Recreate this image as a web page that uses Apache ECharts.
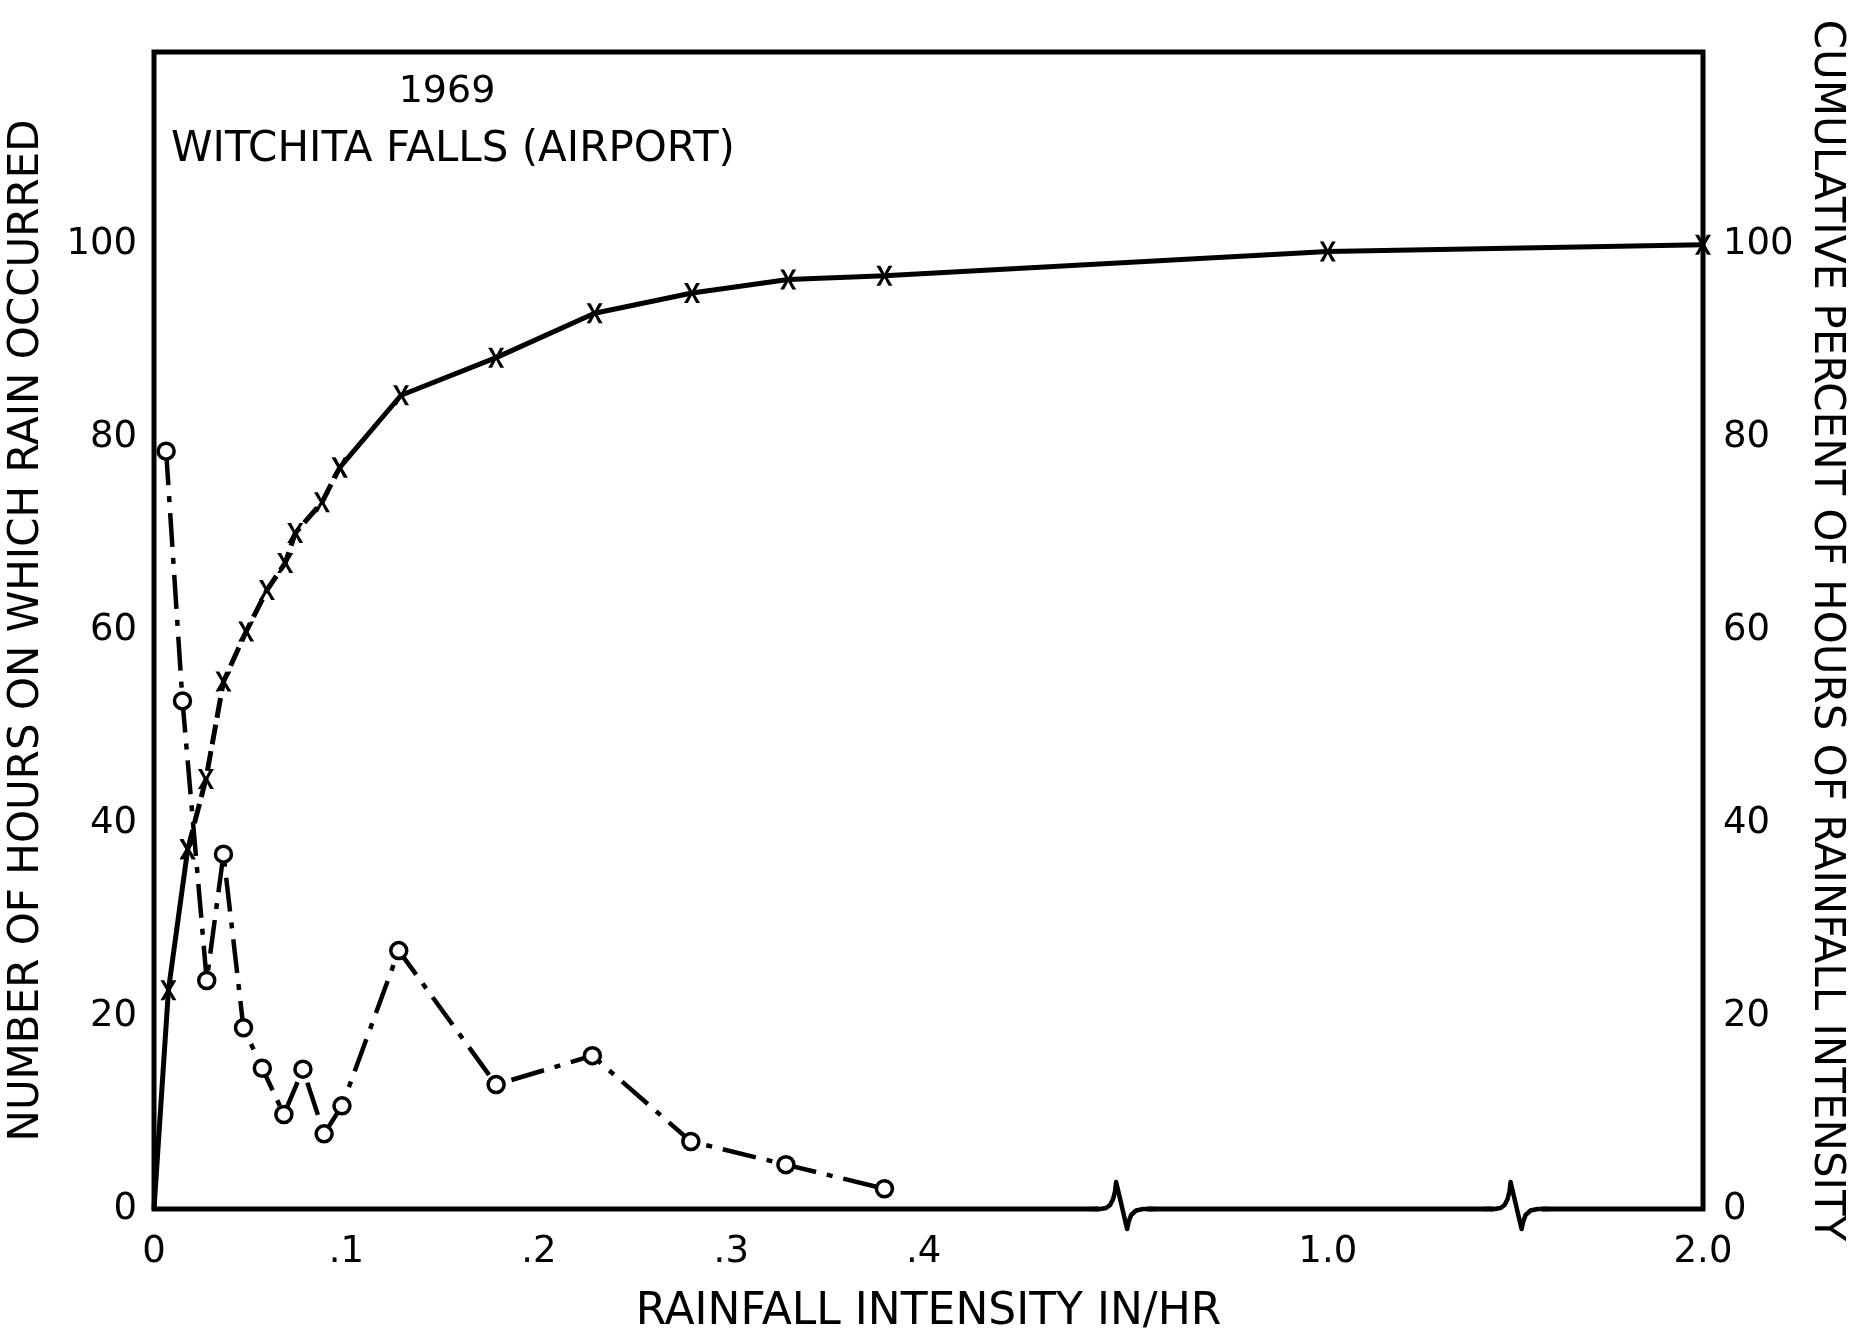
<!DOCTYPE html>
<html>
<head>
<meta charset="utf-8">
<title>1969 Witchita Falls (Airport) – rainfall intensity</title>
<script src="https://cdn.jsdelivr.net/npm/echarts@6/dist/echarts.min.js"></script>
<style>
  html, body { margin: 0; padding: 0; background: #fff; }
  #chart { width: 1858px; height: 1334px; }
</style>
</head>
<body>
<div id="chart"></div>
<script>
// Number of hours on which rain occurred, by rainfall intensity (in/hr)
const hoursIntensity = [0.0063, 0.0148, 0.0274, 0.0361, 0.0465, 0.0563, 0.0675, 0.0774, 0.0884, 0.0977,
                        0.1272, 0.1778, 0.2278, 0.279, 0.3284, 0.3796];
const hoursCount     = [78.6, 52.7, 23.7, 36.8, 18.8, 14.6, 9.8, 14.5, 7.8, 10.7,
                        26.8, 12.9, 15.9, 7.0, 4.6, 2.1];

// Cumulative percent of hours of rainfall intensity
const cumIntensity = [0, 0.0075, 0.0175, 0.027, 0.0361, 0.0479, 0.0587, 0.0682, 0.0734, 0.0873, 0.0965,
                      0.1284, 0.1778, 0.229, 0.2796, 0.3296, 0.3796, 1.0, 2.0];
const cumPercent   = [0, 22.7, 37.3, 44.6, 54.7, 59.9, 64.2, 67.0, 70.1, 73.3, 76.9,
                      84.4, 88.3, 92.9, 95.0, 96.4, 96.8, 99.3, 100];

// Stretch of the cumulative curve that is drawn dashed (point indices)
const dashedFrom = 2;
const dashedTo = 10;

// Axis ticks and labels
const xTickValues = [0, 0.1, 0.2, 0.3, 0.4, 1.0, 2.0];
const xTickLabels = ['0', '.1', '.2', '.3', '.4', '1.0', '2.0'];
const yTickValues = [0, 20, 40, 60, 80, 100];

// Collapsed stretches of the intensity axis
const axisBreaks = [[0.5, 0.89], [1.095, 1.9]];

const FONT = 'DejaVu Sans';
const INK = '#000';

// Letter-x marker
const crossSymbol = 'path://M0,0 L3.4,0 L7,7 L10.6,0 L14,0 L8.8,9 L14,18 L10.6,18 L7,11 L3.4,18 L0,18 L5.2,9 Z';

const hoursData = hoursIntensity.map((x, i) => [x, hoursCount[i]]);
const cumSolidData = cumIntensity.map((x, i) => {
  const keep = i <= dashedFrom || i >= dashedTo;
  const item = { value: [x, keep ? cumPercent[i] : null] };
  if (cumPercent[i] === 0) item.symbol = 'none';
  return item;
});
const cumDashedData = cumIntensity.map((x, i) => {
  const keep = i >= dashedFrom && i <= dashedTo;
  return [x, keep ? cumPercent[i] : null];
});

const chart = echarts.init(document.getElementById('chart'), null, { renderer: 'canvas' });

const labelStyle = { fontFamily: FONT, fontSize: 37, color: INK };
const nameStyle = { fontFamily: FONT, fontSize: 42, color: INK };

chart.setOption({
  animation: false,
  backgroundColor: '#fff',
  grid: {
    left: 154, right: 155, top: 52, bottom: 125,
    containLabel: false, outerBoundsMode: 'none',
    show: true, borderColor: INK, borderWidth: 5, backgroundColor: 'transparent'
  },
  xAxis: {
    type: 'value',
    min: 0, max: 2,
    breaks: axisBreaks.map(([s, e]) => ({ start: s, end: e, gap: 0 })),
    breakArea: { show: false },
    axisLine: { show: false },
    axisTick: { show: false },
    splitLine: { show: false },
    axisLabel: Object.assign({}, labelStyle, {
      margin: 25,
      customValues: xTickValues,
      formatter: v => {
        const k = xTickValues.findIndex(t => Math.abs(t - v) < 1e-9);
        return k < 0 ? '' : xTickLabels[k];
      }
    }),
    name: 'RAINFALL INTENSITY IN/HR',
    nameLocation: 'middle',
    nameGap: 82,
    nameTextStyle: Object.assign({}, nameStyle, { fontSize: 44 })
  },
  yAxis: [
    {
      type: 'value', position: 'left',
      min: 0, max: 120, interval: 20,
      axisLine: { show: false }, axisTick: { show: false }, splitLine: { show: false },
      axisLabel: Object.assign({}, labelStyle, { margin: 17, customValues: yTickValues }),
      name: 'NUMBER OF HOURS ON WHICH RAIN OCCURRED',
      nameLocation: 'middle', nameRotate: 90, nameGap: 106,
      nameTextStyle: nameStyle
    },
    {
      type: 'value', position: 'right',
      min: 0, max: 120, interval: 20,
      axisLabel: Object.assign({}, labelStyle, { margin: 20, customValues: yTickValues }),
      axisLine: { show: false }, axisTick: { show: false }, splitLine: { show: false },
      name: 'CUMULATIVE PERCENT OF HOURS OF RAINFALL INTENSITY',
      nameLocation: 'middle', nameRotate: -90, nameGap: 90,
      nameTextStyle: nameStyle
    }
  ],
  series: [
    {
      name: 'Cumulative percent',
      type: 'line',
      yAxisIndex: 1,
      data: cumSolidData,
      connectNulls: false,
      symbol: crossSymbol,
      symbolSize: [16, 20],
      itemStyle: { color: INK },
      lineStyle: { color: INK, width: 5, type: 'solid' },
      z: 3
    },
    {
      name: 'Cumulative percent (dashed)',
      type: 'line',
      yAxisIndex: 1,
      data: cumDashedData,
      connectNulls: false,
      symbol: crossSymbol,
      symbolSize: [16, 20],
      itemStyle: { color: INK },
      lineStyle: { color: INK, width: 5, type: [20, 7] },
      z: 3
    },
    {
      name: 'Hours of rain',
      type: 'line',
      yAxisIndex: 0,
      data: hoursData,
      symbol: 'circle',
      symbolSize: 16,
      itemStyle: { color: '#fff', borderColor: INK, borderWidth: 3.5 },
      lineStyle: { color: INK, width: 4.5, type: [34, 11, 6, 11] },
      z: 4
    }
  ]
});

// Heading texts plus the break marks on the intensity axis,
// which are placed at each collapsed stretch once the axis is laid out
function drawDecorations() {
  const y0 = chart.convertToPixel({ yAxisIndex: 0 }, 0);
  const glyph = [[-26, 0], [-16, 0], [-10, -1], [-6, -4], [-3, -10], [-1, -18], [0, -27],
                 [11, 20], [12.5, 13], [15, 6], [20, 1.5], [27, 0], [38, 0]];
  const marks = axisBreaks.map(([s], i) => {
    const x0 = chart.convertToPixel({ xAxisIndex: 0 }, s);
    return {
      type: 'group', id: 'break' + i, x: x0, y: y0, z: 100,
      children: [
        { type: 'rect', shape: { x: -17, y: -5, width: 48, height: 10 }, style: { fill: '#fff' } },
        { type: 'polyline', shape: { points: glyph },
          style: { fill: null, stroke: INK, lineWidth: 4.5, lineJoin: 'round', lineCap: 'round' } }
      ]
    };
  });
  const headings = [
    {
      type: 'text', id: 'year', x: 447, y: 92,
      style: { text: '1969', fontFamily: FONT, fontSize: 38, fill: INK, align: 'center', verticalAlign: 'middle' }
    },
    {
      type: 'text', id: 'station', x: 171, y: 150,
      style: { text: 'WITCHITA FALLS (AIRPORT)', fontFamily: FONT, fontSize: 42, fill: INK, align: 'left', verticalAlign: 'middle' }
    }
  ];
  chart.setOption({ graphic: headings.concat(marks) });
}
drawDecorations();
</script>
</body>
</html>
